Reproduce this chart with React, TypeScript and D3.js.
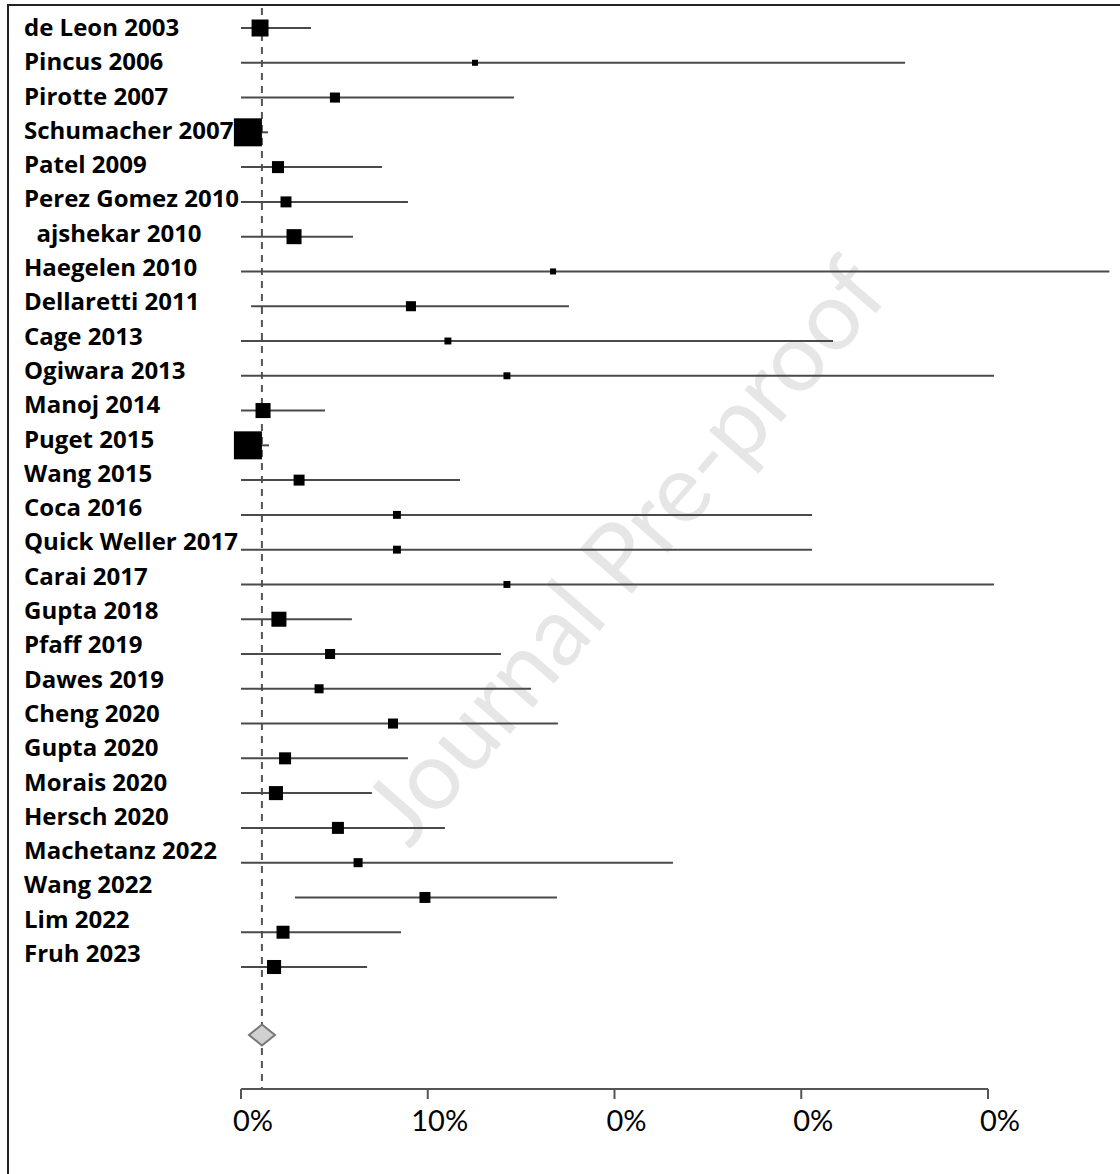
import React from "react";
import * as d3 from "d3";

// study labels, top to bottom
const studies = [
  "de Leon 2003", "Pincus 2006", "Pirotte 2007", "Schumacher 2007", "Patel 2009",
  "Perez Gomez 2010", "\u00A0\u00A0ajshekar 2010", "Haegelen 2010", "Dellaretti 2011",
  "Cage 2013", "Ogiwara 2013", "Manoj 2014", "Puget 2015", "Wang 2015", "Coca 2016",
  "Quick Weller 2017", "Carai 2017", "Gupta 2018", "Pfaff 2019", "Dawes 2019",
  "Cheng 2020", "Gupta 2020", "Morais 2020", "Hersch 2020", "Machetanz 2022",
  "Wang 2022", "Lim 2022", "Fruh 2023",
];

// estimates (%) and 95% CI
const estimate = [1.02, 12.53, 5.03, 0.37, 1.98, 2.41, 2.84, 16.71, 9.1, 11.08, 14.24, 1.18, 0.37, 3.11,
  8.35, 8.35, 14.24, 2.03, 4.77, 4.18, 8.14, 2.36, 1.87, 5.19, 6.27, 9.85, 2.25, 1.77];
const lower = [0, 0, 0, 0, 0, 0, 0, 0, 0.54, 0, 0, 0, 0, 0,
  0, 0, 0, 0, 0, 0, 0, 0, 0, 0, 0, 2.89, 0, 0];
const upper = [3.75, 35.56, 14.62, 1.45, 7.55, 8.94, 6.0, 46.5, 17.56, 31.7, 40.32, 4.5, 1.5, 11.73,
  30.58, 30.58, 40.32, 5.94, 13.92, 15.53, 16.97, 8.94, 7.01, 10.92, 23.13, 16.92, 8.57, 6.75];
// study weights (%)
const weight = [6.0, 0.75, 2.1, 16.3, 3.0, 2.5, 4.7, 0.75, 2.1, 1.0, 1.0, 4.7, 16.3, 2.5,
  1.3, 1.3, 1.0, 4.7, 2.1, 1.7, 2.1, 3.0, 4.1, 3.0, 1.7, 2.5, 3.5, 4.1];

// pooled estimate
const pooled = { est: 1.12, lo: 0.43, hi: 1.82 };

const ticks = [0, 10, 20, 30, 40];
const tickLabels = ["0%", "10%", "0%", "0%", "0%"];

const W = 1120;
const H = 1174;

export default function App() {
  const x = d3.scaleLinear().domain([0, 40]).range([241, 988]);
  const yMark = d3.scalePoint<string>().domain(studies).range([28, 967]);
  const yLabel = d3.scalePoint<string>().domain(studies).range([36, 962]);
  const size = d3.scaleSqrt().domain([0, d3.max(weight) as number]).range([0, 28]);

  const axisY = 1089;
  const diamondY = 1035;
  const diamond = d3.line()([
    [x(pooled.lo), diamondY],
    [x(pooled.est), diamondY - 10.5],
    [x(pooled.hi), diamondY],
    [x(pooled.est), diamondY + 10.5],
  ]) + "Z";

  return (
    <svg width={W} height={H} style={{ position: "absolute", left: 0, top: 0, background: "#fff" }}
      fontFamily="'Open Sans', Lato, sans-serif">
      {/* frame */}
      <line x1={7} x2={W} y1={5} y2={5} stroke="#222" strokeWidth={2} />
      <line x1={8} x2={8} y1={4} y2={H} stroke="#222" strokeWidth={2} />

      {/* watermark */}
      <text transform="translate(622,548) rotate(-49)" textAnchor="middle" dominantBaseline="central"
        fontSize={96} fill="#e6e6e6" fontFamily="Lato, sans-serif">Journal Pre-proof</text>

      {/* reference line through pooled estimate */}
      <line x1={x(pooled.est)} x2={x(pooled.est)} y1={8} y2={axisY} stroke="#555" strokeWidth={2}
        strokeDasharray="7,6" />

      {/* study rows */}
      {studies.map((s, i) => {
        const y = yMark(s) as number;
        const sz = size(weight[i]);
        return (
          <g key={s}>
            <line x1={x(lower[i])} x2={Math.min(x(upper[i]), W - 10)} y1={y} y2={y} stroke="#4a4a4a" strokeWidth={2} />
            <rect x={x(estimate[i]) - sz / 2} y={y - sz / 2} width={sz} height={sz} fill="#000" />
            <text x={24} y={yLabel(s)} fontSize={24} fontWeight={700} fill="#000">{s}</text>
          </g>
        );
      })}

      {/* pooled diamond */}
      <path d={diamond} fill="#d0d0d0" stroke="#777" strokeWidth={2} />

      {/* axis */}
      <line x1={x(0)} x2={x(40)} y1={axisY} y2={axisY} stroke="#555" strokeWidth={2} />
      {ticks.map((t, i) => (
        <g key={t}>
          <line x1={x(t)} x2={x(t)} y1={axisY} y2={axisY + 10} stroke="#555" strokeWidth={2} />
          <text x={x(t) + 12} y={1131} textAnchor="middle" fontSize={29} fill="#000"
            fontFamily="Lato, sans-serif">{tickLabels[i]}</text>
        </g>
      ))}
    </svg>
  );
}
